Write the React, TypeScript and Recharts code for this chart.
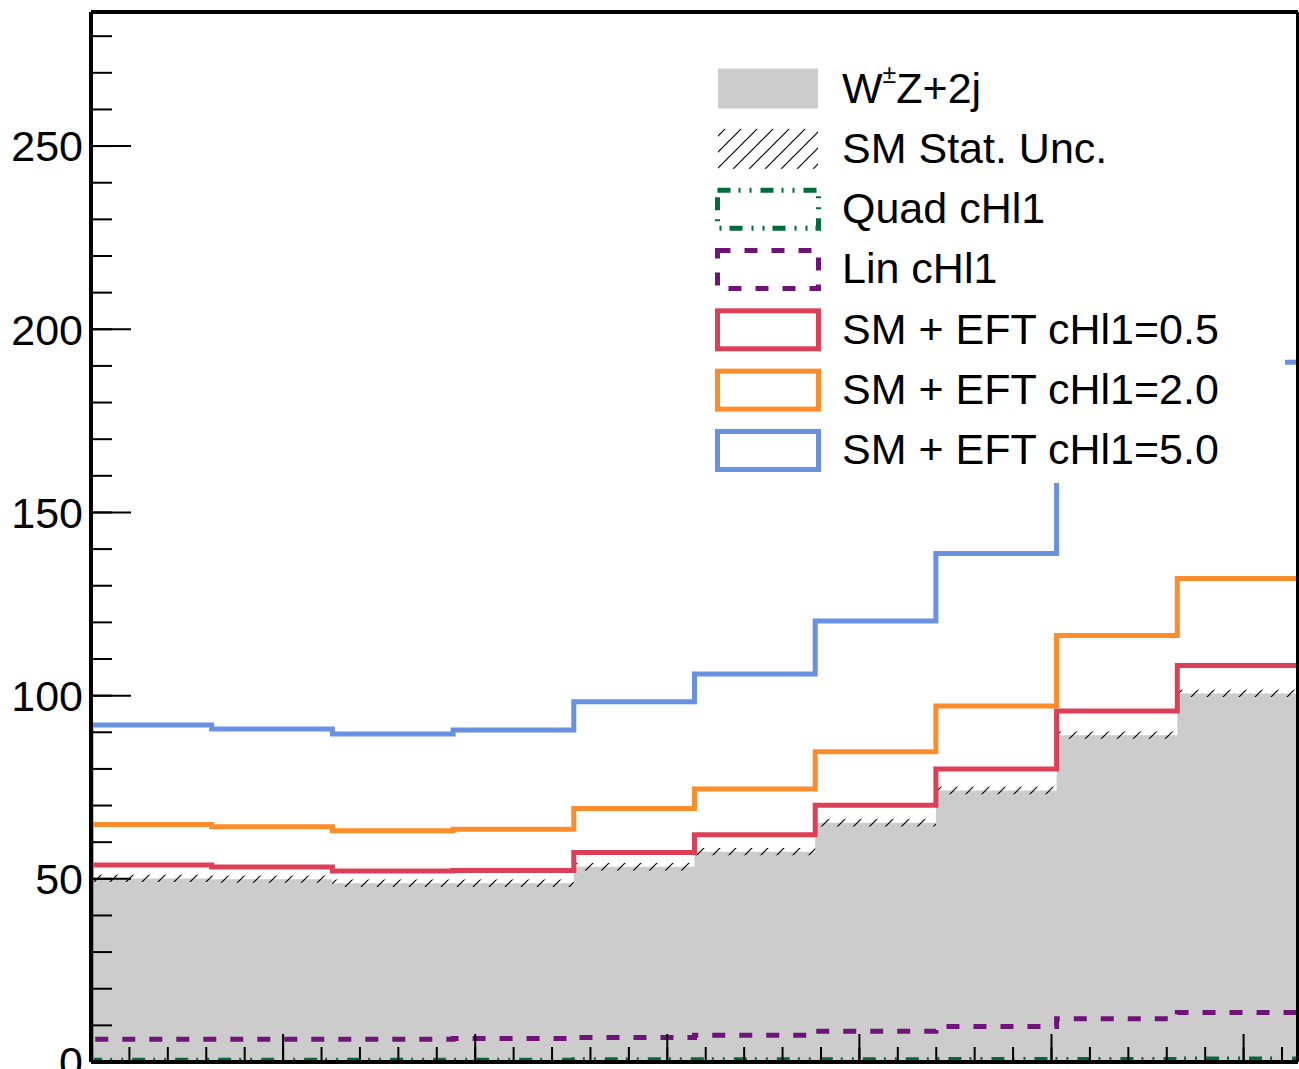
import React from 'react';
import { ComposedChart, Area, Line, XAxis, YAxis } from 'recharts';

// ---- data ----
const X_MIN = 0;
const X_MAX = Math.PI;
const N_BINS = 10;

const smValues = [50.1, 49.9, 48.8, 48.8, 53.3, 57.4, 65.3, 74.1, 89.2, 100.6];
const statUnc = [1.0, 1.0, 1.0, 1.0, 1.0, 1.0, 1.0, 1.0, 1.0, 1.0];
const quadValues = [0.5, 0.5, 0.5, 0.5, 0.6, 0.6, 0.6, 0.7, 0.7, 0.8];
const linValues = [6.2, 6.2, 6.2, 6.4, 6.7, 7.3, 8.4, 9.7, 11.8, 13.5];
const eft05Values = [53.8, 53.2, 52.1, 52.3, 57.2, 62.0, 70.1, 80.0, 95.8, 108.2];
const eft20Values = [64.8, 64.2, 63.1, 63.5, 69.2, 74.5, 84.7, 97.2, 116.4, 132.0];
const eft50Values = [92.0, 90.9, 89.5, 90.6, 98.3, 105.9, 120.4, 138.8, 163.0, 191.0];

const xMajorTicks = [0, 0.5, 1, 1.5, 2, 2.5, 3];
const xMinorTicks = [0, 0.1, 0.2, 0.3, 0.4, 0.5, 0.6, 0.7, 0.8, 0.9, 1.0, 1.1, 1.2, 1.3, 1.4, 1.5, 1.6, 1.7, 1.8, 1.9, 2.0, 2.1, 2.2, 2.3, 2.4, 2.5, 2.6, 2.7, 2.8, 2.9, 3.0, 3.1];
const yMajorTicks = [0, 50, 100, 150, 200, 250];
const yMinorTicks = [0, 10, 20, 30, 40, 50, 60, 70, 80, 90, 100, 110, 120, 130, 140, 150, 160, 170, 180, 190, 200, 210, 220, 230, 240, 250, 260, 270, 280];
const Y_MAX = 286.6;

const legendLabels = ['W±Z+2j', 'SM Stat. Unc.', 'Quad cHl1', 'Lin cHl1', 'SM + EFT cHl1=0.5', 'SM + EFT cHl1=2.0', 'SM + EFT cHl1=5.0'];

// ---- styles ----
const FONT = '"Liberation Sans", Arial, Helvetica, sans-serif';
const GRAY = '#cccccc';
const GREEN = '#006b3c';
const PURPLE = '#6e1478';
const RED = '#dd4056';
const ORANGE = '#fd8c2b';
const BLUE = '#6891e2';
const QUAD_DASH = '13 8 2 9 2 9';
const LIN_DASH = '13 14';

const binEdges = Array.from({ length: N_BINS + 1 }, (_, i) => X_MIN + ((X_MAX - X_MIN) * i) / N_BINS);

type Row = { x: number; sm: number; unc: number; quad: number; lin: number; e05: number; e20: number; e50: number };

const rows: Row[] = [
  { x: binEdges[0], sm: 0, unc: 0, quad: 0, lin: 0, e05: 0, e20: 0, e50: 0 },
  ...smValues.map((v, i) => ({
    x: binEdges[i],
    sm: v,
    unc: statUnc[i],
    quad: quadValues[i],
    lin: linValues[i],
    e05: eft05Values[i],
    e20: eft20Values[i],
    e50: eft50Values[i],
  })),
  {
    x: binEdges[N_BINS],
    sm: smValues[N_BINS - 1],
    unc: statUnc[N_BINS - 1],
    quad: quadValues[N_BINS - 1],
    lin: linValues[N_BINS - 1],
    e05: eft05Values[N_BINS - 1],
    e20: eft20Values[N_BINS - 1],
    e50: eft50Values[N_BINS - 1],
  },
];

const legendKinds = [
  { kind: 'fill' },
  { kind: 'hatch' },
  { kind: 'outline', color: GREEN, dash: QUAD_DASH },
  { kind: 'outline', color: PURPLE, dash: LIN_DASH },
  { kind: 'outline', color: RED },
  { kind: 'outline', color: ORANGE },
  { kind: 'outline', color: BLUE },
];

const LEG_LEFT = 700;
const LEG_TOP = 58;
const LEG_W = 585;
const LEG_H = 425;
const ROW0 = 88.5;
const ROW_STEP = 60.33;

const noLabel = () => <g />;

function LegendBox() {
  return (
    <div
      style={{
        position: 'absolute',
        left: LEG_LEFT,
        top: LEG_TOP,
        width: LEG_W,
        height: LEG_H,
        background: '#ffffff',
        fontFamily: FONT,
        fontSize: 43,
        color: '#000',
      }}
    >
      <svg width={LEG_W} height={LEG_H} style={{ position: 'absolute', left: 0, top: 0 }}>
        <defs>
          <pattern id="legHatch" patternUnits="userSpaceOnUse" width="16" height="16">
            <path d="M0,16 L16,0 M-4,4 L4,-4 M12,20 L20,12" stroke="#000" strokeWidth="1.2" />
          </pattern>
        </defs>
        {legendKinds.map((k, i) => {
          const cy = ROW0 + ROW_STEP * i - LEG_TOP;
          const x0 = 718 - LEG_LEFT;
          if (k.kind === 'fill') {
            return <rect key={i} x={x0} y={cy - 20} width={100} height={40} fill={GRAY} />;
          }
          if (k.kind === 'hatch') {
            return <rect key={i} x={x0} y={cy - 20} width={100} height={40} fill="url(#legHatch)" />;
          }
          return (
            <rect
              key={i}
              x={x0 - 0.5}
              y={cy - 19}
              width={101}
              height={38}
              fill="none"
              stroke={k.color}
              strokeWidth={5}
              strokeDasharray={k.dash}
            />
          );
        })}
      </svg>
      {legendLabels.map((label, i) => {
        const cy = ROW0 + ROW_STEP * i - LEG_TOP;
        const content =
          i === 0 ? (
            <>
              W<span style={{ fontSize: 25, position: 'relative', top: -20 }}>±</span>Z+2j
            </>
          ) : (
            label
          );
        return (
          <div
            key={i}
            style={{
              position: 'absolute',
              left: 842 - LEG_LEFT,
              top: cy - 31,
              height: 60,
              lineHeight: '60px',
              whiteSpace: 'nowrap',
            }}
          >
            {content}
          </div>
        );
      })}
    </div>
  );
}

export default function App() {
  const axisStroke = { stroke: '#000', strokeWidth: 4 };
  const tickStroke = { stroke: '#000', strokeWidth: 2 };
  return (
    <div
      style={{
        position: 'absolute',
        left: 0,
        top: 0,
        width: 1299,
        height: 1069,
        overflow: 'hidden',
        background: '#ffffff',
      }}
    >
      <ComposedChart
        width={1299}
        height={1100}
        data={rows}
        margin={{ top: 11, right: 0, bottom: 38, left: 1 }}
      >
        <defs>
          <pattern id="hatch" patternUnits="userSpaceOnUse" width="16" height="16">
            <path d="M0,16 L16,0 M-4,4 L4,-4 M12,20 L20,12" stroke="#000" strokeWidth="1.2" />
          </pattern>
        </defs>
        <XAxis
          xAxisId="main"
          dataKey="x"
          type="number"
          domain={[X_MIN, X_MAX]}
          ticks={xMajorTicks}
          tick={noLabel}
          tickSize={28}
          mirror
          height={1}
          axisLine={axisStroke}
          tickLine={tickStroke}
          interval={0}
          allowDataOverflow
        />
        <XAxis
          xAxisId="minor"
          dataKey="x"
          type="number"
          domain={[X_MIN, X_MAX]}
          ticks={xMinorTicks}
          tick={noLabel}
          tickSize={14}
          mirror
          height={1}
          axisLine={false}
          tickLine={tickStroke}
          interval={0}
          allowDataOverflow
        />
        <XAxis
          xAxisId="top"
          orientation="top"
          dataKey="x"
          type="number"
          domain={[X_MIN, X_MAX]}
          tick={false}
          tickLine={false}
          height={1}
          axisLine={axisStroke}
          allowDataOverflow
        />
        <YAxis
          yAxisId="main"
          type="number"
          domain={[0, Y_MAX]}
          ticks={yMajorTicks}
          width={90}
          tickLine={false}
          tickSize={0}
          tickMargin={8}
          interval={0}
          tick={{ fontSize: 43, fill: '#000', fontFamily: FONT }}
          axisLine={axisStroke}
          allowDataOverflow
        />
        <YAxis
          yAxisId="majorTicks"
          type="number"
          domain={[0, Y_MAX]}
          ticks={yMajorTicks}
          mirror
          width={1}
          tick={noLabel}
          tickSize={40}
          tickLine={tickStroke}
          axisLine={false}
          interval={0}
          allowDataOverflow
        />
        <YAxis
          yAxisId="minorTicks"
          type="number"
          domain={[0, Y_MAX]}
          ticks={yMinorTicks}
          mirror
          width={1}
          tick={noLabel}
          tickSize={20}
          tickLine={tickStroke}
          axisLine={false}
          interval={0}
          allowDataOverflow
        />
        <YAxis
          yAxisId="right"
          orientation="right"
          type="number"
          domain={[0, Y_MAX]}
          width={1}
          tick={false}
          tickLine={false}
          axisLine={axisStroke}
          allowDataOverflow
        />
        <Area
          xAxisId="main"
          yAxisId="main"
          type="stepAfter"
          dataKey="sm"
          fill={GRAY}
          fillOpacity={1}
          stroke="none"
          isAnimationActive={false}
          dot={false}
          activeDot={false}
        />
        <Area
          xAxisId="main"
          yAxisId="main"
          type="stepAfter"
          dataKey={(d: Row) => [d.sm - d.unc, d.sm + d.unc]}
          fill="url(#hatch)"
          fillOpacity={1}
          stroke="none"
          isAnimationActive={false}
          dot={false}
          activeDot={false}
        />
        <Line
          xAxisId="main"
          yAxisId="main"
          type="stepAfter"
          dataKey="quad"
          stroke={GREEN}
          strokeWidth={5}
          strokeDasharray={QUAD_DASH}
          dot={false}
          activeDot={false}
          isAnimationActive={false}
        />
        <Line
          xAxisId="main"
          yAxisId="main"
          type="stepAfter"
          dataKey="lin"
          stroke={PURPLE}
          strokeWidth={5}
          strokeDasharray={LIN_DASH}
          dot={false}
          activeDot={false}
          isAnimationActive={false}
        />
        <Line
          xAxisId="main"
          yAxisId="main"
          type="stepAfter"
          dataKey="e05"
          stroke={RED}
          strokeWidth={5}
          dot={false}
          activeDot={false}
          isAnimationActive={false}
        />
        <Line
          xAxisId="main"
          yAxisId="main"
          type="stepAfter"
          dataKey="e20"
          stroke={ORANGE}
          strokeWidth={5}
          dot={false}
          activeDot={false}
          isAnimationActive={false}
        />
        <Line
          xAxisId="main"
          yAxisId="main"
          type="stepAfter"
          dataKey="e50"
          stroke={BLUE}
          strokeWidth={5}
          dot={false}
          activeDot={false}
          isAnimationActive={false}
        />
      </ComposedChart>
      <LegendBox />
    </div>
  );
}
